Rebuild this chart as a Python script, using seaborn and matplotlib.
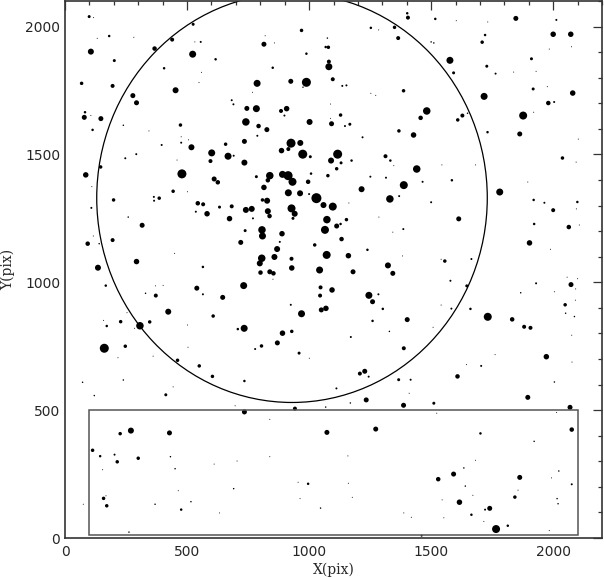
import matplotlib
matplotlib.use("Agg")
import matplotlib.pyplot as plt
from matplotlib.patches import Circle, Rectangle
from matplotlib.ticker import MultipleLocator
import pandas as pd
import seaborn as sns

# Star catalogue read off the frame: pixel positions and instrumental magnitudes
# north-west part of the field
nw_x = [99, 117, 181, 132, 282, 525, 439, 367, 532, 556,
        106, 523, 202, 617, 406, 559, 549, 68, 195, 453,
        278, 293, 683, 690, 82, 79, 106, 147, 239, 113,
        344, 473, 396, 476, 506, 476, 518, 658, 601, 668,
        691, 596, 247, 292, 459, 146, 85, 479, 611, 626,
        110, 443, 502, 199, 364, 365, 386, 544, 566, 536,
        582, 633, 683, 674, 108, 259, 316, 116, 93, 195,
        140, 720, 449, 293, 135, 565]
nw_y = [2039, 2035, 1963, 1954, 1958, 2009, 1949, 1914, 1940, 1940,
        1902, 1892, 1867, 1872, 1837, 1821, 1781, 1778, 1768, 1751,
        1730, 1702, 1712, 1696, 1665, 1645, 1652, 1640, 1614, 1596,
        1592, 1615, 1537, 1569, 1557, 1546, 1528, 1540, 1506, 1493,
        1495, 1474, 1485, 1501, 1478, 1451, 1420, 1424, 1404, 1391,
        1374, 1356, 1354, 1322, 1334, 1319, 1329, 1309, 1305, 1276,
        1268, 1294, 1297, 1249, 1291, 1255, 1223, 1181, 1151, 1165,
        1151, 1156, 1113, 1081, 1057, 1060]
nw_mag = [16, 18, 16.5, 18, 18, 16, 15, 14.5, 18, 17,
          13, 12, 16, 16.5, 16.5, 18, 18, 15.5, 15, 13,
          14, 14, 17, 17, 16.5, 14, 18, 14, 17.5, 16.5,
          18, 15.5, 17, 18, 18, 17, 13, 15.5, 12, 12,
          17, 15, 17, 17, 18, 15.5, 13.5, 10, 14, 14.5,
          18, 15.5, 18, 15.5, 17, 17, 15.5, 14.5, 15, 17,
          13.5, 16, 15, 13.5, 17, 17.5, 14, 18, 14.5, 15,
          17.5, 14, 18, 13.5, 13, 16.5]

# cluster core
core_x = [1402, 1405, 1253, 1350, 1285, 1365, 969, 820, 858, 815,
          1075, 1068, 1079, 989, 851, 1081, 1081, 787, 925, 989,
          975, 1097, 1136, 1153, 1387, 1253, 1273, 768, 745, 784,
          885, 908, 899, 1129, 1088, 1088, 741, 793, 827, 1002,
          1092, 1147, 1167, 788, 735, 1219, 1368, 1428, 926, 964,
          915, 887, 974, 1005, 1117, 1090, 1131, 1174, 735, 1113,
          1313, 1333, 1347, 1441, 839, 831, 784, 891, 914, 932,
          1008, 996, 1077, 1251, 1315, 1388, 815, 1215, 915, 963,
          1000, 1030, 1331, 1369, 809, 828, 1059, 1097, 928, 741,
          765, 831, 838, 941, 934, 770, 1073, 1153, 1113, 1129,
          1163, 1286, 738, 807, 809, 889, 1065, 1133, 1386, 1343,
          880, 869, 1023, 1239, 1072, 1161, 858, 806, 798, 928,
          1323, 1383, 929, 1043]
core_y = [2052, 2035, 1995, 1997, 1987, 1955, 1985, 1964, 1936, 1931,
          1955, 1920, 1919, 1894, 1839, 1863, 1843, 1778, 1786, 1782,
          1763, 1794, 1768, 1770, 1749, 1739, 1731, 1743, 1680, 1679,
          1670, 1679, 1652, 1654, 1697, 1641, 1627, 1611, 1597, 1627,
          1620, 1611, 1618, 1573, 1551, 1567, 1592, 1576, 1544, 1545,
          1521, 1515, 1501, 1491, 1501, 1476, 1467, 1476, 1468, 1444,
          1493, 1476, 1456, 1443, 1417, 1399, 1413, 1422, 1417, 1393,
          1425, 1393, 1417, 1413, 1409, 1380, 1371, 1364, 1350, 1348,
          1345, 1329, 1326, 1337, 1322, 1319, 1302, 1296, 1289, 1283,
          1287, 1278, 1259, 1268, 1250, 1250, 1245, 1245, 1220, 1228,
          1310, 1255, 1202, 1205, 1181, 1190, 1205, 1169, 1208, 1196,
          1158, 1130, 1146, 1127, 1107, 1104, 1099, 1094, 1074, 1092,
          1066, 1103, 1056, 1048]
core_mag = [16.5, 15, 16.5, 15.5, 18, 15, 15.5, 18, 18, 14,
            17.5, 16.5, 15.5, 16.5, 16.5, 15, 12, 12, 14, 10,
            17.5, 15, 17, 17, 15.5, 18, 18, 18, 14, 12,
            15, 13.5, 17, 15.5, 18, 18, 11.5, 14.5, 14, 13,
            14, 17, 16, 17, 14, 17, 15.5, 13.5, 10, 13,
            15, 13.5, 10, 16, 10, 13, 16, 16.5, 13, 15.5,
            15, 16.5, 18, 11.5, 11.5, 14.5, 16, 12, 10, 11,
            16.5, 14.5, 15.5, 17, 17, 11, 13.5, 13, 12, 13,
            17, 9, 11.5, 17, 15.5, 13, 13, 11, 11, 13,
            13, 13, 14.5, 13, 16, 17, 11.5, 15.5, 14, 16.5,
            18, 18, 16, 11.5, 12, 13.5, 11, 14.5, 17, 18,
            17, 13, 15.5, 16.5, 11, 13.5, 13, 11.5, 13, 15,
            13, 18, 13.5, 12]

# south of the core, down to the lower strip
south_x = [801, 839, 854, 1180, 1343, 732, 852, 1047, 1094, 1045,
           1245, 1284, 1260, 925, 1302, 1050, 1069, 969, 1260, 1402,
           734, 891, 929, 1329, 1171, 870, 805, 779, 1388, 959,
           1228, 1208, 1244, 1367, 1416, 735, 1112, 1234, 1169, 1387,
           735, 942, 1068, 1073, 1273, 996, 1047, 839, 1159, 955,
           1161, 963, 1177, 1388, 1419, 839, 1001, 1410]
south_y = [1038, 1041, 1035, 1041, 1035, 987, 1012, 980, 970, 948,
           949, 953, 924, 912, 896, 892, 898, 877, 849, 854,
           820, 801, 808, 808, 786, 763, 751, 739, 742, 723,
           652, 643, 631, 619, 619, 614, 585, 540, 528, 519,
           493, 506, 512, 413, 426, 212, 117, 318, 321, 218,
           214, 154, 159, 98, 81, 464, 703, 566]
south_mag = [14.5, 14, 14.5, 14, 14, 12, 18, 15, 13.5, 15,
             12, 17, 14, 17, 16.5, 14, 13.5, 12, 16.5, 14,
             12, 13.5, 15.5, 17.5, 17, 14, 15.5, 17, 15, 16,
             14, 15, 17, 16, 17, 16.5, 17, 14, 17.5, 14,
             14, 15, 17.5, 14, 14, 16.5, 17.5, 18, 18, 18,
             18, 18, 18, 18, 18, 18, 18, 18]

# north-east part
ne_x = [1517, 1603, 1732, 1847, 2013, 1721, 1709, 2000, 2072, 2075,
        1500, 1511, 1577, 1592, 1728, 1764, 1838, 1911, 1930, 1984,
        1918, 1976, 1717, 2080, 1980, 2004, 1482, 1457, 1628, 1609,
        1649, 1877, 1920, 1731, 1863, 2103, 2038, 2094, 1465, 1585,
        1544, 1682, 1896, 1781, 1500, 1920, 1964, 2099, 2095, 2000,
        1613, 1922, 2064, 2107, 1903, 1989, 1556, 1665, 1541]
ne_y = [2030, 2023, 2018, 2032, 2026, 1967, 1939, 1970, 1970, 1921,
        1940, 1936, 1868, 1819, 1845, 1816, 1822, 1874, 1825, 1912,
        1756, 1765, 1727, 1740, 1701, 1705, 1670, 1643, 1652, 1635,
        1661, 1652, 1665, 1587, 1580, 1560, 1486, 1470, 1393, 1399,
        1459, 1459, 1392, 1353, 1313, 1322, 1311, 1314, 1287, 1282,
        1248, 1228, 1216, 1224, 1154, 1129, 1083, 1091, 1090]
ne_mag = [16.5, 18, 18, 14, 17, 16.5, 15.5, 13.5, 13.5, 18,
          17.5, 17.5, 12, 16, 16, 17, 18, 16, 18, 18,
          16, 18, 12, 13.5, 14.5, 17, 11.5, 14.5, 15, 15.5,
          17.5, 11, 18, 16.5, 14, 18, 15.5, 18, 17, 16.5,
          18, 18, 18, 12, 17, 16.5, 17, 16.5, 18, 15,
          14, 16.5, 14.5, 18, 13.5, 18, 15.5, 17, 18]

# south-east part
se_x = [1579, 2057, 2100, 1930, 2073, 2092, 1867, 2005, 1646, 2049,
        2051, 2087, 2091, 1583, 1661, 1732, 1832, 1881, 1907, 2076,
        1541, 1508, 1972, 1762, 1705, 1645, 2077, 1608, 2005, 1896,
        1511, 2069, 1523, 2014, 2076, 1702, 1922, 1682, 1634, 2023,
        1993, 1529, 1592, 1863, 1640, 2076, 1856, 1671, 1843, 2016,
        2020, 1545, 1616, 1740, 1721, 1665, 1552, 1716, 1766, 1814,
        1984, 1461]
se_y = [1006, 1020, 1014, 996, 991, 974, 959, 963, 986, 912,
        879, 866, 930, 897, 896, 865, 855, 826, 822, 793,
        911, 824, 709, 717, 673, 678, 688, 632, 610, 550,
        527, 511, 488, 491, 424, 409, 378, 304, 274, 262,
        235, 230, 250, 237, 203, 210, 187, 167, 160, 154,
        134, 149, 140, 116, 111, 91, 79, 65, 35, 48,
        29, 9]
se_mag = [17, 18, 18, 17, 14, 18, 17.5, 18, 16, 15.5,
          17.5, 17.5, 18, 17, 16.5, 11, 14.5, 15, 15, 18,
          18, 18, 13.5, 18, 17, 18, 18, 14.5, 17.5, 14,
          16, 14, 18, 18, 14.5, 16.5, 17.5, 18, 17.5, 17.5,
          18, 14.5, 14, 14, 17.5, 17, 18, 18, 15.5, 17.5,
          17.5, 18, 13.5, 14, 17, 16.5, 18, 18, 11, 16.5,
          18, 17]

# south-west part
sw_x = [167, 371, 402, 330, 372, 540, 565, 646, 423, 607,
        254, 158, 228, 171, 307, 285, 347, 502, 708, 161,
        247, 504, 217, 361, 461, 550, 604, 239, 72, 443,
        120, 413, 697, 226, 270, 428, 113, 144, 203, 214,
        300, 432, 154, 451, 611, 705, 464, 158, 168, 171,
        75, 369, 476, 516, 691, 633, 262]
sw_y = [987, 986, 988, 957, 948, 977, 953, 941, 885, 868,
        881, 851, 846, 829, 830, 820, 845, 833, 817, 742,
        750, 746, 705, 711, 695, 673, 632, 618, 609, 591,
        557, 560, 517, 408, 420, 411, 343, 320, 326, 298,
        312, 318, 267, 271, 289, 301, 185, 155, 165, 126,
        132, 132, 111, 142, 193, 98, 23]
sw_mag = [16.5, 18, 18, 17.5, 15, 14, 17, 14, 13, 15.5,
          18, 18, 15.5, 16.5, 11.5, 18, 15.5, 18, 16.5, 10,
          15.5, 18, 18, 18, 15.5, 15.5, 15.5, 17.5, 17.5, 18,
          17.5, 16, 18, 15.5, 13, 14, 15.5, 16.5, 17, 15.5,
          15.5, 17.5, 18, 17.5, 18, 18, 18, 15.5, 18, 15.5,
          18, 17.5, 16.5, 17.5, 17.5, 18, 17.5]

# cluster radius and comparison field
circle_center = (930, 1330)
circle_radius = 800
field_x = (100, 2100)
field_y = (10, 500)

stars = pd.DataFrame({
    "x": nw_x + core_x + south_x + ne_x + se_x + sw_x,
    "y": nw_y + core_y + south_y + ne_y + se_y + sw_y,
    "mag": nw_mag + core_mag + south_mag + ne_mag + se_mag + sw_mag,
})

# symbol diameter grows linearly with brightness (1 px at the faint limit)
mag_limit = 19.0
size_map = {m: ((mag_limit - m) * 0.72) ** 2 for m in sorted(stars["mag"].unique())}

sns.set_style("white")
plt.rcParams["font.family"] = ["DejaVu Sans"]

fig = plt.figure(figsize=(6.04, 5.78), dpi=100)
ax = fig.add_axes([65 / 604, 40 / 578, 537 / 604, 537 / 578])

sns.scatterplot(data=stars, x="x", y="y", size="mag", sizes=size_map,
                color="black", linewidth=0, edgecolor="none", legend=False, ax=ax)

ax.add_patch(Circle(circle_center, circle_radius, fill=False, ec="black", lw=0.9))
ax.add_patch(Rectangle((field_x[0], field_y[0]), field_x[1] - field_x[0], field_y[1] - field_y[0],
                       fill=False, ec="#555555", lw=1.1))

ax.set_xlim(0, 2200)
ax.set_ylim(0, 2100)
ax.xaxis.set_major_locator(MultipleLocator(500))
ax.xaxis.set_minor_locator(MultipleLocator(100))
ax.yaxis.set_major_locator(MultipleLocator(500))
ax.yaxis.set_minor_locator(MultipleLocator(100))
ax.tick_params(which="both", direction="in", top=True, right=True, color="#333333", width=0.9)
ax.tick_params(which="major", length=6.5)
ax.tick_params(which="minor", length=3.2)
ax.tick_params(axis="x", labelsize=10, pad=5)
ax.tick_params(axis="y", labelsize=10, pad=3.5)
for sp in ax.spines.values():
    sp.set_linewidth(1.2)
    sp.set_color("#333333")

ax.set_xlabel("X(pix)", fontsize=10, family=["DejaVu Serif"])
ax.set_ylabel("Y(pix)", fontsize=10, family=["DejaVu Serif"])
ax.xaxis.set_label_coords(0.5, -0.045)
ax.yaxis.set_label_coords(-0.092, 0.5)

fig.savefig("out.png", dpi=100)
